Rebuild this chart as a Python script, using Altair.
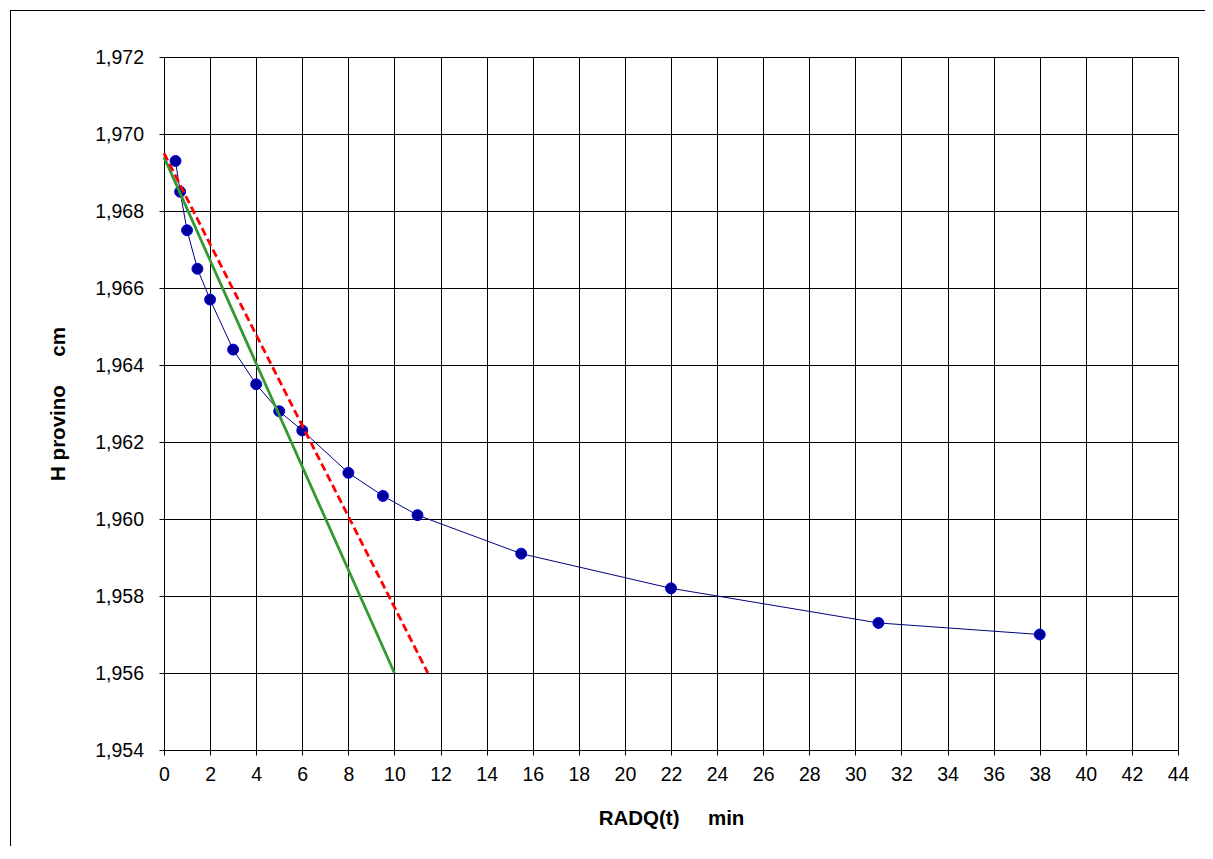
import altair as alt
import pandas as pd

# Measured points (RADQ(t) in min^0.5, H in cm)
radq_t = [0.5, 0.7, 1.0, 1.45, 2.0, 3.0, 4.0, 5.0, 6.0, 8.0, 9.5, 11.0, 15.5, 22.0, 31.0, 38.0]
h_provino = [1.9693, 1.9685, 1.9675, 1.9665, 1.9657, 1.9644, 1.9635, 1.9628, 1.9623,
             1.9612, 1.9606, 1.9601, 1.9591, 1.9582, 1.9573, 1.9570]

# Construction lines (endpoints)
green_x = [0.0, 10.0]
green_y = [1.9694, 1.9560]
red_x = [0.0, 11.45]
red_y = [1.9695, 1.9560]

x_ticks = [i * 0.5 for i in range(89)]
y_ticks = [round(1.954 + i * 0.0005, 4) for i in range(37)]

FONT = "Liberation Sans"
W, H = 1014, 693

pts = pd.DataFrame({"x": radq_t, "y": h_provino})
green = pd.DataFrame({"x": green_x, "y": green_y})
red = pd.DataFrame({"x": red_x, "y": red_y})

x_major = "datum.value % 2 === 0"
y_major = "abs(datum.value * 500 - round(datum.value * 500)) < 0.01"

x_scale = alt.Scale(domain=[0, 44], nice=False, zero=False)
y_scale = alt.Scale(domain=[1.954, 1.972], nice=False, zero=False)

x_axis = alt.Axis(
    values=x_ticks,
    title="RADQ(t)\u00a0\u00a0\u00a0\u00a0\u00a0min",
    labelExpr=f"{x_major} ? datum.label : ''",
    labelOverlap=False, labelFlush=False, labelBound=False,
    labelFont=FONT, labelFontSize=19.5, labelColor="#000", labelPadding=10,
    titleFont=FONT, titleFontSize=20.5, titleFontWeight="bold", titleColor="#000",
    titlePadding=25,
    tickSize=5, tickColor="#000", tickWidth=1,
    domainColor="#000", domainWidth=1,
    grid=True, gridColor="#000", gridWidth=1,
    gridOpacity={"condition": {"test": x_major, "value": 1}, "value": 0},
)
y_axis = alt.Axis(
    values=y_ticks,
    title="H provino\u00a0\u00a0\u00a0\u00a0\u00a0cm",
    labelExpr=f"{y_major} ? replace(format(datum.value, '.3f'), '.', ',') : ''",
    labelOverlap=False, labelFlush=False, labelBound=False,
    labelFont=FONT, labelFontSize=19.5, labelColor="#000", labelPadding=15.5,
    titleFont=FONT, titleFontSize=20.5, titleFontWeight="bold", titleColor="#000",
    titlePadding=26,
    tickSize=5, tickColor="#000", tickWidth=1,
    domainColor="#000", domainWidth=1,
    grid=True, gridColor="#000", gridWidth=1,
    gridOpacity={"condition": {"test": y_major, "value": 1}, "value": 0},
)

base = alt.Chart(pts)

line = base.mark_line(color="#000080", strokeWidth=1, clip=True).encode(
    x=alt.X("x:Q", scale=x_scale, axis=x_axis),
    y=alt.Y("y:Q", scale=y_scale, axis=y_axis),
)
points = base.mark_point(filled=True, shape="circle", size=120, fill="#000099",
                         stroke="#0000EE", strokeWidth=1, opacity=1).encode(
    x=alt.X("x:Q", scale=x_scale),
    y=alt.Y("y:Q", scale=y_scale),
)
green_line = alt.Chart(green).mark_line(color="#339933", strokeWidth=2.8).encode(
    x=alt.X("x:Q", scale=x_scale),
    y=alt.Y("y:Q", scale=y_scale),
)
red_line = alt.Chart(red).mark_line(color="#FF0000", strokeWidth=2.8, strokeDash=[8, 4]).encode(
    x=alt.X("x:Q", scale=x_scale),
    y=alt.Y("y:Q", scale=y_scale),
)

# Outer chart-area frame (decoration): only top and left edges are visible
one = pd.DataFrame({"a": [0]})
frame_left = alt.Chart(one).mark_rule(color="#000", strokeWidth=1).encode(
    x=alt.value(-153.5), y=alt.value(-47), y2=alt.value(H + 200),
)
frame_top = alt.Chart(one).mark_rule(color="#000", strokeWidth=1).encode(
    x=alt.value(-153.5), x2=alt.value(W + 200), y=alt.value(-46.5),
)

chart = alt.layer(frame_left, frame_top, line, points, green_line, red_line).properties(
    width=W, height=H,
    autosize=alt.AutoSizeParams(type="none"),
    padding={"left": 156, "top": 49, "right": 27, "bottom": 96},
).configure_view(stroke=None).configure(background="white")

chart.save("out.html", embed_options={"renderer": "svg", "actions": False})
